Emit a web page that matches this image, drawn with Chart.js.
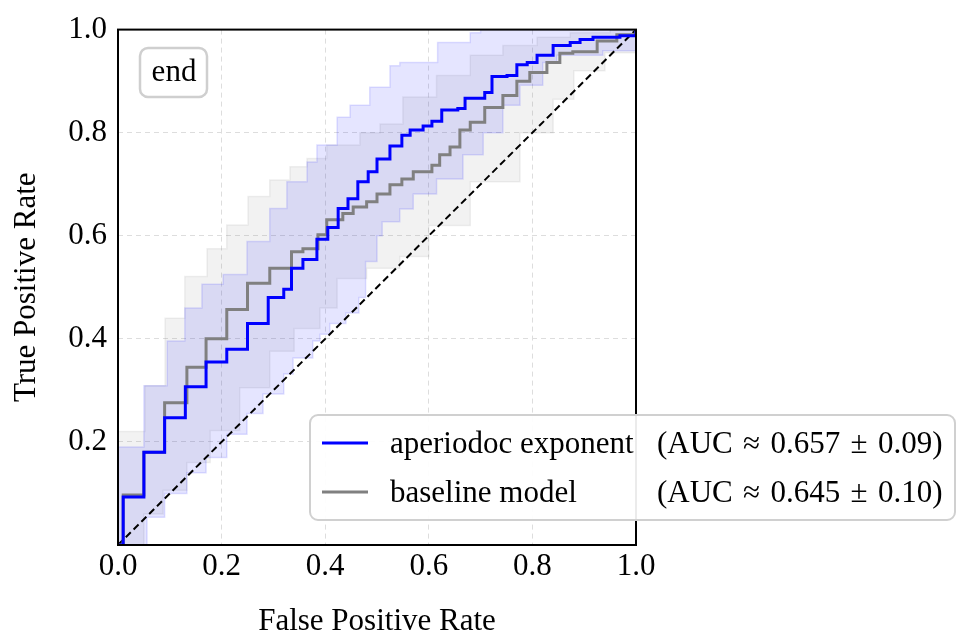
<!DOCTYPE html>
<html lang="en">
<head>
<meta charset="UTF-8">
<title>ROC curves</title>
<script src="https://cdn.jsdelivr.net/npm/chart.js"></script>
<style>
    body { margin: 0; background: #fff; }
    #wrap { width: 965px; height: 634px; }
</style>
</head>
<body>
<div id="wrap"><canvas id="roc" width="965" height="634"></canvas></div>
<script>
// mean ROC curves (step start points)
const blueMeanX = [0, 0.01, 0.05, 0.09, 0.13, 0.17, 0.21, 0.25, 0.29, 0.32, 0.335, 0.357, 0.384, 0.405, 0.425, 0.444, 0.463, 0.483, 0.50, 0.525, 0.548, 0.564, 0.589, 0.606, 0.625, 0.656, 0.670, 0.708, 0.722, 0.751, 0.770, 0.790, 0.809, 0.840, 0.873, 0.892, 0.917, 0.969, 1.0];
const blueMeanY = [0, 0.093, 0.18, 0.247, 0.307, 0.355, 0.38, 0.43, 0.48, 0.496, 0.537, 0.554, 0.593, 0.616, 0.653, 0.672, 0.705, 0.724, 0.749, 0.774, 0.795, 0.805, 0.813, 0.822, 0.844, 0.847, 0.867, 0.878, 0.909, 0.911, 0.932, 0.936, 0.95, 0.969, 0.975, 0.981, 0.985, 0.988, 1.0];
const grayMeanX = [0, 0.01, 0.05, 0.09, 0.133, 0.17, 0.21, 0.25, 0.293, 0.335, 0.357, 0.386, 0.403, 0.434, 0.454, 0.48, 0.5, 0.525, 0.548, 0.57, 0.606, 0.621, 0.641, 0.66, 0.68, 0.708, 0.743, 0.77, 0.795, 0.828, 0.853, 0.878, 0.925, 0.963, 1.0];
const grayMeanY = [0, 0.097, 0.18, 0.276, 0.345, 0.40, 0.457, 0.508, 0.537, 0.569, 0.575, 0.602, 0.631, 0.643, 0.656, 0.666, 0.681, 0.699, 0.71, 0.724, 0.737, 0.757, 0.772, 0.805, 0.82, 0.849, 0.872, 0.90, 0.917, 0.936, 0.954, 0.957, 0.978, 0.99, 1.0];

// +/- one std bands
const blueUpX = [0, 0.05, 0.095, 0.129, 0.162, 0.203, 0.249, 0.293, 0.326, 0.365, 0.384, 0.423, 0.448, 0.486, 0.525, 0.544, 0.617, 0.68, 0.70, 1.0];
const blueUpY = [0.19, 0.309, 0.396, 0.46, 0.506, 0.525, 0.589, 0.653, 0.705, 0.743, 0.776, 0.83, 0.853, 0.888, 0.93, 0.936, 0.975, 0.994, 1.0, 1.0];
const blueLoX = [0, 0.042, 0.056, 0.09, 0.133, 0.17, 0.21, 0.249, 0.28, 0.32, 0.338, 0.376, 0.39, 0.409, 0.44, 0.465, 0.478, 0.50, 0.51, 0.544, 0.57, 0.615, 0.666, 0.705, 0.743, 0.776, 0.82, 0.847, 0.936, 1.0];
const blueLoY = [0, 0, 0.054, 0.10, 0.14, 0.17, 0.215, 0.255, 0.293, 0.332, 0.363, 0.396, 0.409, 0.43, 0.45, 0.48, 0.55, 0.60, 0.627, 0.652, 0.681, 0.71, 0.757, 0.80, 0.853, 0.892, 0.936, 0.95, 0.959, 0.96];
const grayUpX = [0, 0.052, 0.091, 0.129, 0.172, 0.21, 0.251, 0.293, 0.332, 0.365, 0.403, 0.467, 0.506, 0.55, 0.615, 0.68, 0.743, 0.809, 0.873, 0.95, 1.0];
const grayUpY = [0.22, 0.309, 0.44, 0.521, 0.575, 0.621, 0.676, 0.708, 0.734, 0.75, 0.776, 0.80, 0.817, 0.869, 0.911, 0.95, 0.969, 0.985, 0.994, 1.0, 1.0];
const grayLoX = [0, 0.05, 0.087, 0.133, 0.178, 0.235, 0.293, 0.34, 0.39, 0.423, 0.48, 0.544, 0.6, 0.68, 0.776, 0.84, 0.88, 0.94, 1.0];
const grayLoY = [0, 0.06, 0.106, 0.16, 0.222, 0.305, 0.376, 0.42, 0.46, 0.517, 0.537, 0.56, 0.62, 0.705, 0.80, 0.865, 0.92, 0.955, 0.98];

const chanceX = [0, 1];
const chanceY = [0, 1];

const xTickLabels = ['0.0', '0.2', '0.4', '0.6', '0.8', '1.0'];
const yTickLabels = ['', '0.2', '0.4', '0.6', '0.8', '1.0'];
const seriesNames = ['aperiodoc exponent', 'baseline model'];
const aucTexts = ['(AUC\u2004\u2248\u20040.657\u2004\u00b1\u20040.09)', '(AUC\u2004\u2248\u20040.645\u2004\u00b1\u20040.10)'];
const seriesColors = ['#0000ff', '#808080'];
const panelLabel = 'end';

const FONT = "'Liberation Serif', 'Times New Roman', serif";

function pts(xs, ys) {
    return xs.map((x, i) => ({ x: x, y: ys[i] }));
}

// frame around the plot area
const framePlugin = {
    id: 'frame',
    afterDatasetsDraw(chart) {
        const a = chart.chartArea;
        const ctx = chart.ctx;
        ctx.save();
        ctx.strokeStyle = '#000';
        ctx.lineWidth = 2;
        ctx.strokeRect(a.left, a.top, a.right - a.left, a.bottom - a.top);
        ctx.restore();
    }
};

function roundBox(ctx, x, y, w, h, r) {
    ctx.beginPath();
    ctx.moveTo(x + r, y);
    ctx.arcTo(x + w, y, x + w, y + h, r);
    ctx.arcTo(x + w, y + h, x, y + h, r);
    ctx.arcTo(x, y + h, x, y, r);
    ctx.arcTo(x, y, x + w, y, r);
    ctx.closePath();
}

// legend box and the "end" label
const boxesPlugin = {
    id: 'boxes',
    afterDraw(chart) {
        const ctx = chart.ctx;
        ctx.save();
        // panel label
        roundBox(ctx, 140, 48, 67, 49, 8);
        ctx.fillStyle = 'rgba(255,255,255,0.9)';
        ctx.fill();
        ctx.strokeStyle = '#cfcfcf';
        ctx.lineWidth = 2.5;
        ctx.stroke();
        ctx.fillStyle = '#000';
        ctx.font = '31px ' + FONT;
        ctx.textAlign = 'center';
        ctx.textBaseline = 'middle';
        ctx.fillText(panelLabel, 174, 73);

        // legend
        roundBox(ctx, 310, 415, 645, 105, 8);
        ctx.fillStyle = 'rgba(255,255,255,0.92)';
        ctx.fill();
        ctx.strokeStyle = '#d0d0d0';
        ctx.lineWidth = 2;
        ctx.stroke();
        ctx.textAlign = 'left';
        const rows = [443, 492];
        rows.forEach((y, i) => {
            ctx.strokeStyle = seriesColors[i];
            ctx.lineWidth = 2.8;
            ctx.beginPath();
            ctx.moveTo(322, y);
            ctx.lineTo(368, y);
            ctx.stroke();
            ctx.fillStyle = '#000';
            ctx.fillText(seriesNames[i], 390, y + 2);
            ctx.fillText(aucTexts[i], 657, y + 2);
        });
        ctx.restore();
    }
};

const bandStyle = (rgb, fillTarget, ord) => ({
    borderColor: 'rgba(' + rgb + ',0.12)',
    backgroundColor: 'rgba(' + rgb + ',0.1)',
    borderWidth: 1.5,
    stepped: 'before',
    fill: fillTarget,
    order: ord
});

const ctx = document.getElementById('roc').getContext('2d');
new Chart(ctx, {
    type: 'line',
    data: {
        datasets: [
            Object.assign({ label: 'blue upper', data: pts(blueUpX, blueUpY) }, bandStyle('0,0,255', '+1', 4)),
            Object.assign({ label: 'blue lower', data: pts(blueLoX, blueLoY) }, bandStyle('0,0,255', false, 4)),
            Object.assign({ label: 'gray upper', data: pts(grayUpX, grayUpY) }, bandStyle('128,128,128', '+1', 5)),
            Object.assign({ label: 'gray lower', data: pts(grayLoX, grayLoY) }, bandStyle('128,128,128', false, 5)),
            {
                label: 'chance',
                data: pts(chanceX, chanceY),
                borderColor: '#000',
                borderWidth: 2,
                borderDash: [7, 4],
                fill: false,
                order: 2
            },
            {
                label: seriesNames[1],
                data: pts(grayMeanX, grayMeanY),
                borderColor: seriesColors[1],
                borderWidth: 3,
                stepped: 'before',
                fill: false,
                order: 1
            },
            {
                label: seriesNames[0],
                data: pts(blueMeanX, blueMeanY),
                borderColor: seriesColors[0],
                borderWidth: 3,
                stepped: 'before',
                fill: false,
                order: 0
            }
        ]
    },
    options: {
        responsive: false,
        animation: false,
        elements: { point: { radius: 0, hoverRadius: 0 } },
        layout: { padding: { left: 0, top: 27, right: 329, bottom: 0 } },
        plugins: {
            legend: { display: false },
            tooltip: { enabled: false },
            filler: { propagate: false }
        },
        scales: {
            x: {
                type: 'linear',
                min: 0,
                max: 1,
                afterFit(s) { s.height = 89; },
                grid: { color: '#dddddd', lineWidth: 1, drawTicks: false },
                border: { display: false, dash: [5, 4] },
                ticks: {
                    stepSize: 0.2,
                    padding: 3,
                    color: '#000',
                    font: { family: FONT, size: 31 },
                    maxRotation: 0,
                    callback: (v, i) => xTickLabels[i]
                },
                title: {
                    display: true,
                    text: 'False Positive Rate',
                    color: '#000',
                    font: { family: FONT, size: 31 },
                    padding: { top: 0, bottom: -6 }
                }
            },
            y: {
                type: 'linear',
                min: 0,
                max: 1,
                afterFit(s) { s.width = 118; },
                grid: { color: '#dddddd', lineWidth: 1, drawTicks: false },
                border: { display: false, dash: [5, 4] },
                ticks: {
                    stepSize: 0.2,
                    padding: 11,
                    color: '#000',
                    font: { family: FONT, size: 31 },
                    callback: (v, i) => yTickLabels[i]
                },
                title: {
                    display: true,
                    text: 'True Positive Rate',
                    color: '#000',
                    font: { family: FONT, size: 31 },
                    padding: { top: 8, bottom: 0 }
                }
            }
        }
    },
    plugins: [framePlugin, boxesPlugin]
});
</script>
</body>
</html>
